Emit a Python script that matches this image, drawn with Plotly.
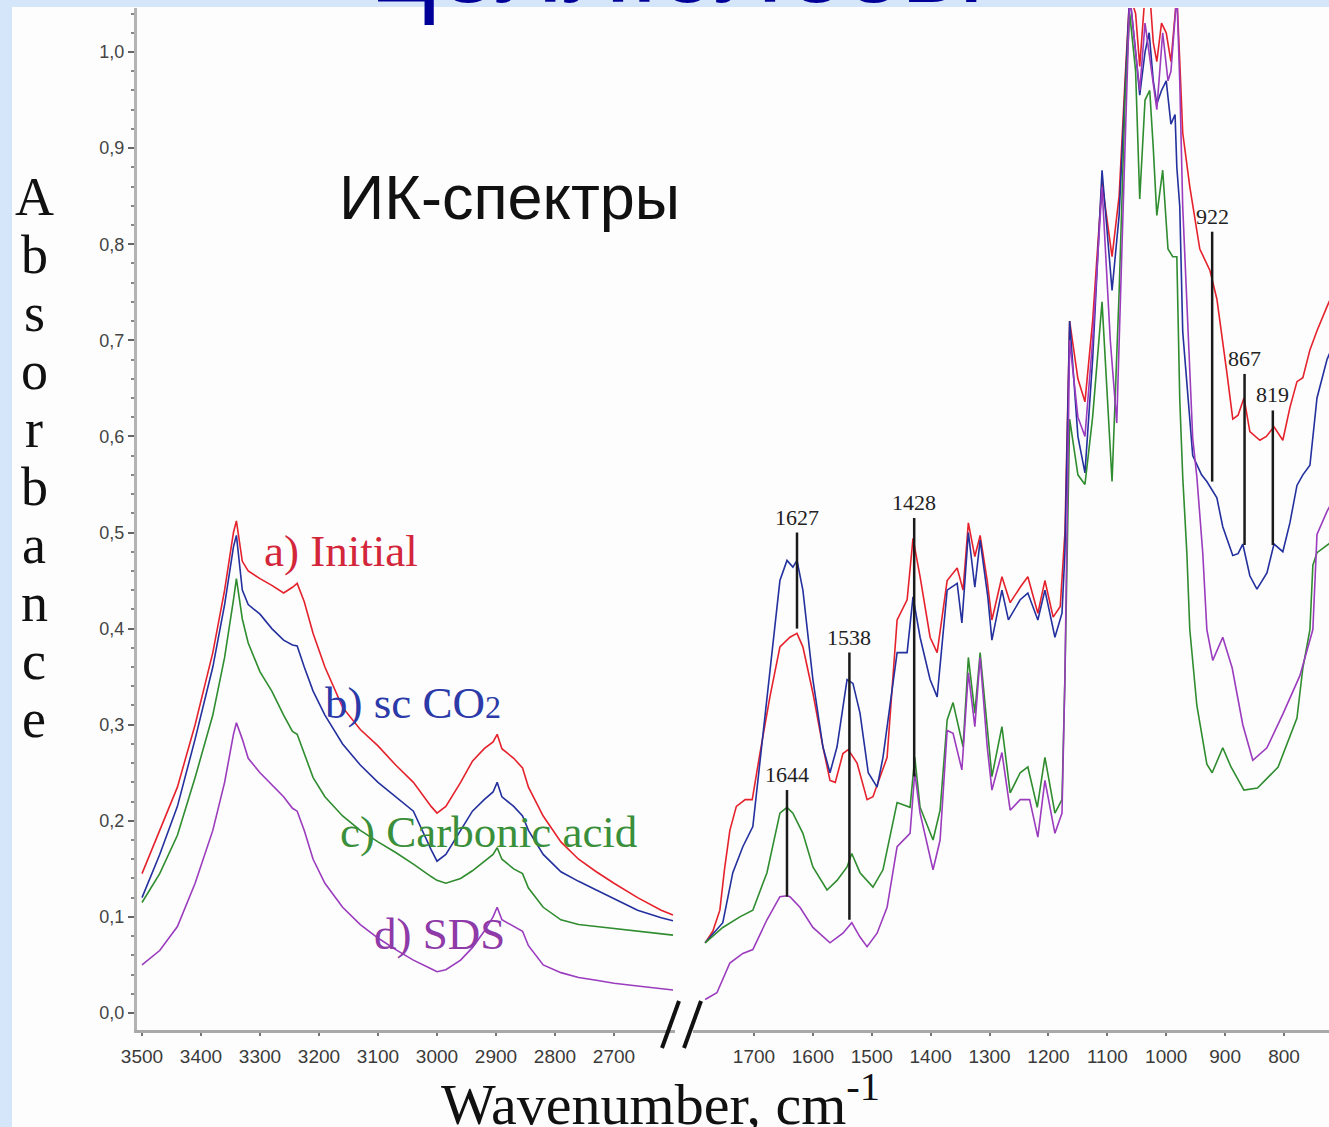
import plotly.graph_objects as go

W, H = 1329, 1127

# ---------------- spectra: O-H / C-H stretching window (cm-1) ----------------
wn_high = [3500, 3470, 3440, 3410, 3380, 3360, 3345, 3340, 3330, 3320, 3300, 3280,
           3260, 3245, 3237, 3225, 3210, 3190, 3160, 3130, 3100, 3070, 3040, 3010,
           3000, 2985, 2960, 2940, 2920, 2905, 2898, 2890, 2870, 2855, 2845, 2820,
           2790, 2760, 2730, 2700, 2660, 2620, 2600]
abs_initial_high = [0.145, 0.19, 0.235, 0.30, 0.375, 0.44, 0.50, 0.512, 0.47, 0.46, 0.452, 0.445,
                    0.437, 0.443, 0.447, 0.428, 0.395, 0.36, 0.318, 0.295, 0.278, 0.258, 0.24, 0.215,
                    0.208, 0.215, 0.24, 0.262, 0.275, 0.282, 0.29, 0.275, 0.265, 0.255, 0.235, 0.205,
                    0.178, 0.16, 0.147, 0.135, 0.12, 0.107, 0.102]
abs_scco2_high = [0.12, 0.165, 0.215, 0.285, 0.36, 0.425, 0.485, 0.497, 0.44, 0.425, 0.415, 0.40,
                  0.388, 0.383, 0.382, 0.36, 0.335, 0.31, 0.28, 0.258, 0.24, 0.225, 0.21, 0.17,
                  0.158, 0.165, 0.19, 0.21, 0.222, 0.23, 0.24, 0.225, 0.215, 0.205, 0.19, 0.165,
                  0.147, 0.137, 0.128, 0.119, 0.107, 0.099, 0.096]
abs_carbonic_high = [0.115, 0.145, 0.185, 0.245, 0.31, 0.37, 0.43, 0.452, 0.41, 0.385, 0.355, 0.335,
                     0.31, 0.293, 0.29, 0.27, 0.245, 0.225, 0.205, 0.19, 0.178, 0.167, 0.155, 0.142,
                     0.138, 0.135, 0.14, 0.148, 0.158, 0.165, 0.172, 0.16, 0.15, 0.145, 0.13, 0.11,
                     0.097, 0.092, 0.09, 0.088, 0.085, 0.082, 0.081]
abs_sds_high = [0.05, 0.065, 0.09, 0.135, 0.19, 0.24, 0.29, 0.302, 0.285, 0.265, 0.25, 0.238,
                0.225, 0.213, 0.21, 0.19, 0.16, 0.135, 0.11, 0.092, 0.078, 0.066, 0.055, 0.046,
                0.043, 0.045, 0.055, 0.068, 0.085, 0.1, 0.11, 0.097, 0.09, 0.085, 0.07, 0.05,
                0.042, 0.037, 0.034, 0.031, 0.028, 0.025, 0.024]

# ---------------- spectra: fingerprint window (cm-1) ----------------
wn_initial_low = [1783, 1770, 1758, 1750, 1741, 1730, 1715, 1703, 1690, 1673,
                  1656, 1639, 1627, 1617, 1600, 1583, 1571, 1562, 1549, 1540,
                  1525, 1508, 1498, 1474, 1457, 1440, 1430, 1418, 1401, 1389,
                  1372, 1355, 1345, 1336, 1325, 1316, 1304, 1296, 1279, 1265,
                  1248, 1235, 1218, 1206, 1192, 1180, 1172, 1164, 1150, 1138,
                  1125, 1109, 1092, 1080, 1070, 1062, 1052, 1045, 1036, 1029,
                  1022, 1016, 1008, 1000, 992, 982, 977, 972, 960, 943,
                  926, 914, 897, 887, 878, 868, 858, 841, 830, 817,
                  802, 790, 778, 768, 756, 744, 727, 720]
abs_initial_low = [0.073, 0.085, 0.107, 0.15, 0.19, 0.215, 0.222, 0.222, 0.27, 0.329,
                   0.381, 0.391, 0.395, 0.381, 0.333, 0.277, 0.242, 0.24, 0.27, 0.274,
                   0.26, 0.222, 0.225, 0.266, 0.409, 0.43, 0.494, 0.454, 0.391, 0.375,
                   0.45, 0.463, 0.44, 0.51, 0.475, 0.497, 0.45, 0.409, 0.454, 0.427,
                   0.443, 0.454, 0.416, 0.45, 0.412, 0.423, 0.5, 0.72, 0.66, 0.636,
                   0.72, 0.864, 0.787, 0.85, 0.97, 1.06, 1.04, 0.985, 1.06, 1.07,
                   1.01, 0.99, 1.03, 1.02, 0.99, 1.06, 0.99, 0.916, 0.86, 0.795,
                   0.773, 0.743, 0.666, 0.618, 0.622, 0.64, 0.605, 0.596, 0.6, 0.61,
                   0.596, 0.63, 0.657, 0.661, 0.69, 0.71, 0.735, 0.745]

wn_scco2_low = [1783, 1765, 1753, 1736, 1719, 1702, 1690, 1678, 1665, 1656,
                1644, 1634, 1627, 1617, 1600, 1583, 1571, 1559, 1542, 1532,
                1520, 1506, 1491, 1481, 1457, 1440, 1430, 1418, 1401, 1389,
                1372, 1355, 1347, 1336, 1325, 1316, 1303, 1296, 1279, 1268,
                1248, 1235, 1218, 1206, 1189, 1177, 1172, 1164, 1150, 1138,
                1125, 1109, 1092, 1080, 1070, 1062, 1052, 1045, 1036, 1029,
                1022, 1016, 1008, 1000, 992, 985, 982, 977, 972, 960,
                955, 940, 931, 914, 904, 887, 878, 870, 858, 846,
                829, 817, 802, 790, 778, 768, 756, 744, 727, 720]
abs_scco2_low = [0.073, 0.085, 0.094, 0.146, 0.173, 0.194, 0.26, 0.329, 0.40, 0.45,
                 0.471, 0.464, 0.471, 0.44, 0.347, 0.277, 0.25, 0.277, 0.347, 0.343,
                 0.312, 0.25, 0.235, 0.266, 0.375, 0.375, 0.433, 0.391, 0.347, 0.329,
                 0.44, 0.447, 0.406, 0.50, 0.443, 0.492, 0.433, 0.388, 0.44, 0.409,
                 0.43, 0.437, 0.409, 0.44, 0.391, 0.416, 0.48, 0.72, 0.60, 0.562,
                 0.68, 0.877, 0.752, 0.83, 0.96, 1.06, 1.0, 0.955, 1.0, 1.02,
                 0.97, 0.946, 0.96, 0.97, 0.925, 0.935, 0.88, 0.839, 0.709, 0.622,
                 0.58, 0.56, 0.553, 0.536, 0.506, 0.476, 0.478, 0.488, 0.455, 0.441,
                 0.458, 0.488, 0.48, 0.51, 0.549, 0.56, 0.57, 0.64, 0.68, 0.69]

wn_carbonic_low = [1783, 1753, 1724, 1702, 1678, 1656, 1644, 1634, 1617, 1600,
                   1576, 1559, 1542, 1534, 1520, 1498, 1481, 1457, 1435, 1427,
                   1418, 1396, 1384, 1372, 1362, 1350, 1345, 1336, 1325, 1316,
                   1304, 1296, 1279, 1265, 1248, 1235, 1219, 1206, 1189, 1177,
                   1172, 1164, 1150, 1138, 1125, 1109, 1092, 1080, 1070, 1062,
                   1052, 1045, 1036, 1028, 1022, 1016, 1006, 997, 989, 982,
                   977, 972, 965, 960, 948, 931, 922, 904, 890, 868,
                   845, 810, 778, 768, 756, 751, 744, 727, 720]
abs_carbonic_low = [0.073, 0.089, 0.10, 0.107, 0.146, 0.208, 0.214, 0.208, 0.187, 0.152,
                    0.128, 0.138, 0.152, 0.166, 0.146, 0.131, 0.149, 0.219, 0.214, 0.266,
                    0.214, 0.18, 0.211, 0.305, 0.323, 0.291, 0.277, 0.37, 0.312, 0.375,
                    0.294, 0.246, 0.298, 0.229, 0.25, 0.256, 0.214, 0.266, 0.208, 0.222,
                    0.35, 0.618, 0.56, 0.55, 0.62, 0.74, 0.553, 0.75, 0.95, 1.04,
                    0.98, 0.847, 0.95, 0.96, 0.9, 0.83, 0.877, 0.795, 0.787, 0.787,
                    0.638, 0.558, 0.479, 0.399, 0.32, 0.259, 0.25, 0.276, 0.256, 0.232,
                    0.234, 0.256, 0.307, 0.359, 0.399, 0.466, 0.479, 0.487, 0.49]

wn_sds_low = [1783, 1763, 1741, 1719, 1702, 1678, 1656, 1644, 1639, 1622,
              1600, 1571, 1549, 1534, 1520, 1508, 1491, 1474, 1457, 1435,
              1427, 1418, 1396, 1384, 1372, 1362, 1347, 1336, 1325, 1316,
              1304, 1296, 1279, 1265, 1248, 1232, 1218, 1206, 1189, 1177,
              1172, 1164, 1150, 1138, 1125, 1109, 1095, 1084, 1075, 1062,
              1052, 1045, 1036, 1022, 1016, 1006, 997, 992, 982, 977,
              972, 955, 948, 938, 931, 921, 904, 888, 870, 853,
              829, 802, 773, 751, 744, 727, 720]
abs_sds_low = [0.014, 0.021, 0.052, 0.062, 0.066, 0.097, 0.121, 0.122, 0.121, 0.11,
               0.089, 0.073, 0.083, 0.094, 0.079, 0.069, 0.083, 0.11, 0.173, 0.187,
               0.25, 0.208, 0.149, 0.18, 0.294, 0.291, 0.253, 0.354, 0.298, 0.37,
               0.277, 0.232, 0.271, 0.211, 0.222, 0.222, 0.183, 0.242, 0.187, 0.208,
               0.35, 0.70, 0.62, 0.60, 0.70, 0.86, 0.70, 0.614, 0.80, 1.06,
               1.0, 0.96, 1.03, 0.97, 0.94, 1.02, 0.97, 0.98, 1.06, 0.968,
               0.839, 0.598, 0.558, 0.479, 0.399, 0.367, 0.391, 0.359, 0.30, 0.263,
               0.276, 0.311, 0.351, 0.399, 0.498, 0.522, 0.53]

# band assignments marked with vertical bars
peak_wn = [1627, 1538, 1428, 1644, 922, 867, 819]

# axis ticks
y_ticks = [0.0, 0.1, 0.2, 0.3, 0.4, 0.5, 0.6, 0.7, 0.8, 0.9, 1.0]
y_tick_text = ["0,0", "0,1", "0,2", "0,3", "0,4", "0,5", "0,6", "0,7", "0,8", "0,9", "1,0"]
x_ticks_high = [3500, 3400, 3300, 3200, 3100, 3000, 2900, 2800, 2700]
x_ticks_low = [1700, 1600, 1500, 1400, 1300, 1200, 1100, 1000, 900, 800]

series_names = ["a) Initial", "b) sc CO2", "c) Carbonic acid", "d) SDS"]


def px(xp):
    return xp / W


def py(yp):
    return 1 - yp / H


line_colors = ["#e5222c", "#23309e", "#2f8c2f", "#9a3cbd"]
label_colors = ["#d3263a", "#2b3aa8", "#3a8f3a", "#8e3aa8"]

high = [abs_initial_high, abs_scco2_high, abs_carbonic_high, abs_sds_high]
low = [(wn_initial_low, abs_initial_low), (wn_scco2_low, abs_scco2_low),
       (wn_carbonic_low, abs_carbonic_low), (wn_sds_low, abs_sds_low)]

fig = go.Figure()
for name, col, yh, (wl, yl) in zip(series_names, line_colors, high, low):
    fig.add_trace(go.Scatter(x=wn_high, y=yh, mode="lines", name=name,
                             line=dict(color=col, width=1.6), xaxis="x", yaxis="y",
                             showlegend=False, hoverinfo="skip"))
    fig.add_trace(go.Scatter(x=wl, y=yl, mode="lines", name=name,
                             line=dict(color=col, width=1.6), xaxis="x2", yaxis="y",
                             showlegend=False, hoverinfo="skip"))

# vertical extent of each band marker (absorbance)
bar_top = [0.50, 0.375, 0.515, 0.232, 0.813, 0.665, 0.627]
bar_bottom = [0.40, 0.097, 0.246, 0.121, 0.553, 0.487, 0.487]

shapes = [
    # white slide body over the light-blue frame
    dict(type="rect", xref="paper", yref="paper", x0=px(12), x1=1, y0=0, y1=py(7),
         fillcolor="#fdfdfd", line=dict(width=0), layer="below"),
    # axis break marks
    dict(type="line", xref="paper", yref="paper", x0=px(662), y0=py(1048), x1=px(679), y1=py(1001),
         line=dict(color="#111", width=4)),
    dict(type="line", xref="paper", yref="paper", x0=px(684), y0=py(1048), x1=px(701), y1=py(1001),
         line=dict(color="#111", width=4)),
]
annotations = []
for wn, t, b in zip(peak_wn, bar_top, bar_bottom):
    shapes.append(dict(type="line", xref="x2", yref="y", x0=wn, x1=wn, y0=b, y1=t,
                       line=dict(color="#1a1a1a", width=2.5)))
    annotations.append(dict(x=wn, y=t, xref="x2", yref="y", text=str(wn), showarrow=False,
                            yanchor="bottom", xanchor="center", yshift=1,
                            font=dict(family="Liberation Serif", size=22, color="#222")))

label_pos = [(262, 551), (323, 703), (338, 832), (372, 934)]
label_text = ["a) Initial", "b) sc CO<span style='font-size:32px'>2</span>",
              "c) Carbonic acid", "d) SDS"]
for (lx, ly), txt, col in zip(label_pos, label_text, label_colors):
    annotations.append(dict(x=px(lx), y=py(ly), xref="paper", yref="paper", text=txt,
                            showarrow=False, xanchor="left", yanchor="middle",
                            font=dict(family="Liberation Serif", size=45, color=col)))

# stacked y-axis title
for i, ch in enumerate("Absorbance"):
    annotations.append(dict(x=px(34), y=py(197 + 58 * i), xref="paper", yref="paper", text=ch,
                            showarrow=False, xanchor="center", yanchor="middle",
                            font=dict(family="Liberation Serif", size=54, color="#111")))

annotations += [
    dict(x=px(660), y=py(1100), xref="paper", yref="paper", text="Wavenumber, cm<sup>-1</sup>",
         showarrow=False, xanchor="center", yanchor="middle",
         font=dict(family="Liberation Serif", size=58, color="#111")),
    dict(x=px(337), y=py(197), xref="paper", yref="paper", text="ИК-спектры",
         showarrow=False, xanchor="left", yanchor="middle",
         font=dict(family="Liberation Sans", size=63, color="#111")),
    dict(x=px(677), y=py(-38), xref="paper", yref="paper", text="целлюлозы",
         showarrow=False, xanchor="center", yanchor="middle",
         font=dict(family="Liberation Sans", size=116, color="#000099")),
]

xstyle = dict(showline=True, linecolor="#a9a9a9", linewidth=3, ticks="outside", ticklen=3,
              tickwidth=2, tickcolor="#777", showgrid=False, zeroline=False, automargin=False,
              tickfont=dict(family="Liberation Sans", size=19, color="#3a3a3a"),
              ticklabelstandoff=4)

fig.update_layout(
    width=W, height=H, margin=dict(l=0, r=0, t=0, b=0, autoexpand=False),
    paper_bgcolor="#d5e6fa", plot_bgcolor="rgba(0,0,0,0)",
    showlegend=False,
    xaxis=dict(domain=[px(137), px(675)], range=[3508.5, 2596.6], anchor="y",
               tickvals=x_ticks_high, **xstyle),
    xaxis2=dict(domain=[px(693), 1], range=[1803.6, 723.6], anchor="y",
                tickvals=x_ticks_low, **xstyle),
    yaxis=dict(domain=[py(1030), py(8)], range=[-0.0177, 1.0458], anchor="x",
               showline=True, linecolor="#b3b3b3", linewidth=3, ticks="outside", ticklen=6,
               tickwidth=1.5, tickcolor="#666", tickvals=y_ticks, ticktext=y_tick_text,
               showgrid=False, zeroline=False, automargin=False,
               tickfont=dict(family="Liberation Sans", size=18, color="#444"),
               minor=dict(ticks="outside", ticklen=3, dtick=0.02, tickcolor="#888", tickwidth=1.5)),
    shapes=shapes,
    annotations=annotations,
)

fig.write_html("out.html")
